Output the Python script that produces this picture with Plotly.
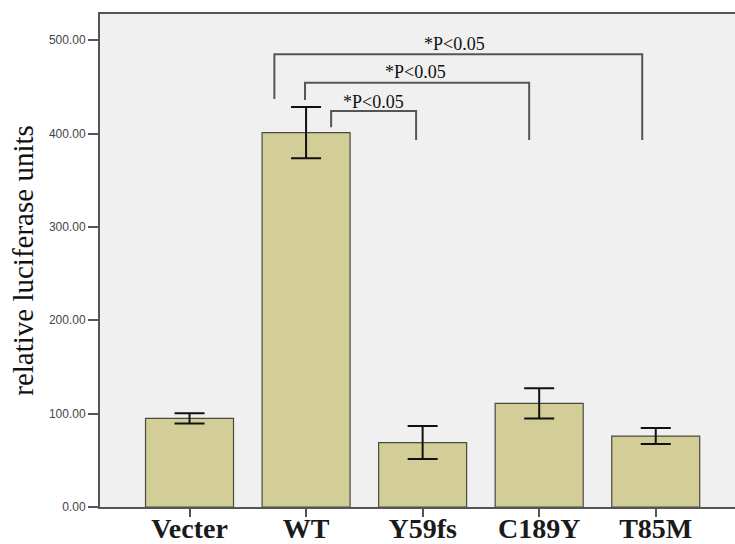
import plotly.graph_objects as go

# ---- data ----
categories = ["Vecter", "WT", "Y59fs", "C189Y", "T85M"]
means = [95, 401, 69, 111, 76]
errors = [5.5, 27.5, 17.7, 16.3, 8.5]

y_tick_vals = [0, 100, 200, 300, 400, 500]
y_tick_text = ["0.00", "100.00", "200.00", "300.00", "400.00", "500.00"]

# significance brackets (x in category index units, y in data units)
bracket_x0 = [1.215, 0.991, 0.728]
bracket_x1 = [1.944, 2.914, 3.884]
bracket_top = [424, 454.4, 484.9]
bracket_left_end = [406.6, 436, 437]
bracket_right_end = [393, 393, 393]
bracket_label = ["*P<0.05", "*P<0.05", "*P<0.05"]
label_x = [1.582, 1.943, 2.276]
label_y = [434, 465.5, 495.5]

BAR = "#d3ce98"
LINE = "#555555"

fig = go.Figure()
fig.add_trace(go.Bar(
    x=categories, y=means, width=0.755,
    marker=dict(color=BAR, line=dict(color="#4a4a40", width=1.2)),
    error_y=dict(type="data", array=errors, visible=True,
                 color="#111111", thickness=2, width=15),
    showlegend=False,
))

shapes = []
for x0, x1, top, le, re in zip(bracket_x0, bracket_x1, bracket_top,
                               bracket_left_end, bracket_right_end):
    shapes.append(dict(
        type="path", xref="x", yref="y",
        path=f"M {x0},{le} L {x0},{top} L {x1},{top} L {x1},{re}",
        line=dict(color=LINE, width=2),
    ))

annotations = []
for lx, ly, t in zip(label_x, label_y, bracket_label):
    annotations.append(dict(
        x=lx, y=ly, xref="x", yref="y", text=t, showarrow=False,
        font=dict(family="Liberation Serif", size=18, color="#111111"),
        xanchor="center", yanchor="middle",
    ))

fig.update_layout(
    width=735, height=544,
    margin=dict(l=100, r=0, t=14, b=37),
    paper_bgcolor="white", plot_bgcolor="#f0f0f0",
    shapes=shapes, annotations=annotations,
)
fig.update_xaxes(
    range=[-0.768, 4.68], automargin=False,
    showline=True, linecolor=LINE, linewidth=2, mirror=True,
    ticks="outside", ticklen=8, tickcolor=LINE, tickwidth=1.5,
    tickfont=dict(family="Liberation Serif", size=28, color="#1a1a1a",
                  weight="bold"),
    ticklabelstandoff=-13,
    showgrid=False, zeroline=False,
)
fig.update_yaxes(
    range=[0, 528], automargin=False,
    tickvals=y_tick_vals, ticktext=y_tick_text,
    showline=True, linecolor=LINE, linewidth=2,
    ticks="outside", ticklen=10, tickcolor=LINE, tickwidth=1.5,
    tickfont=dict(family="Liberation Sans", size=12, color="#444444"),
    showgrid=False, zeroline=False,
    title=dict(text="relative luciferase units",
               font=dict(family="Liberation Serif", size=29, color="#111111"),
               standoff=7),
)

fig.write_html(
    "out.html",
    config={"displayModeBar": False},
    post_script="document.body.style.margin='0';document.body.style.overflow='hidden';",
)
